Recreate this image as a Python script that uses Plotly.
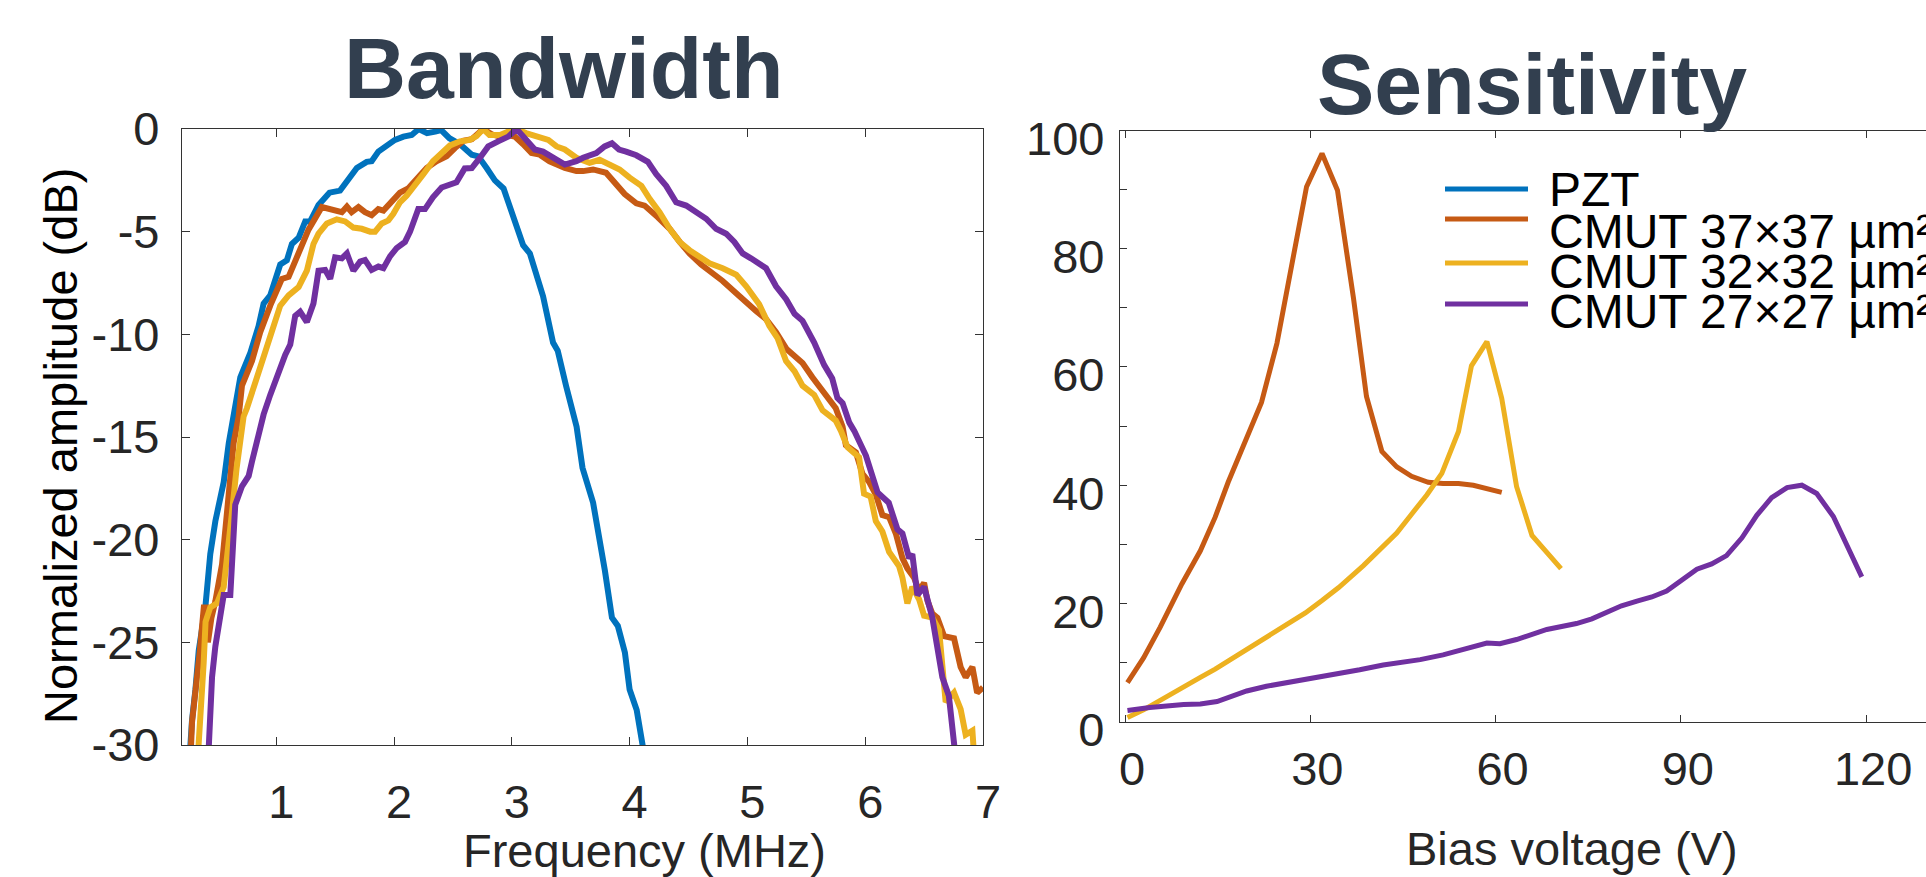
import plotly.graph_objects as go

# ---------------- Bandwidth data (frequency in MHz, normalized amplitude in dB) --------------
pzt_f = [0.26, 0.27, 0.285, 0.314, 0.342, 0.398, 0.44, 0.483, 0.554, 0.597, 0.637, 0.695, 0.78, 0.85,
         0.893, 0.949, 1.034, 1.09, 1.133, 1.19, 1.246, 1.288, 1.359, 1.452, 1.542, 1.613, 1.684, 1.768,
         1.81, 1.867, 1.938, 2.008, 2.08, 2.15, 2.21, 2.28, 2.35, 2.40, 2.47, 2.56, 2.66, 2.715, 2.786,
         2.856, 2.93, 3.0, 3.096, 3.153, 3.265, 3.35, 3.39, 3.46, 3.52, 3.55, 3.60, 3.69, 3.79, 3.85,
         3.90, 3.96, 4.0, 4.06, 4.11, 4.12]
pzt_db = [-31, -30.0, -28.8, -27.3, -25.4, -23.3, -20.7, -19.1, -17.2, -15.3, -14.0, -12.1, -10.9, -9.6,
          -8.5, -8.1, -6.6, -6.4, -5.6, -5.3, -4.5, -4.5, -3.7, -3.1, -3.0, -2.45, -1.9, -1.6,
          -1.57, -1.1, -0.85, -0.53, -0.37, -0.29, 0.0, -0.2, -0.13, -0.05, -0.45, -0.74, -1.25, -1.33, -1.9,
          -2.5, -2.9, -4.05, -5.66, -6.06, -8.14, -10.4, -10.8, -12.5, -14.0, -14.5, -16.5, -18.2, -21.5, -23.8,
          -24.2, -25.5, -27.3, -28.3, -30.0, -30.5]

c37_f = [0.27, 0.285, 0.35, 0.385, 0.405, 0.42, 0.45, 0.483, 0.54, 0.582, 0.638, 0.681, 0.709, 0.794,
         0.864, 0.949, 1.048, 1.105, 1.19, 1.274, 1.387, 1.458, 1.557, 1.6, 1.64, 1.698, 1.754, 1.81,
         1.867, 1.91, 1.98, 2.05, 2.12, 2.206, 2.277, 2.36, 2.446, 2.517, 2.587, 2.66, 2.757, 2.83, 2.9,
         2.955, 3.025, 3.096, 3.167, 3.237, 3.32, 3.45, 3.548, 3.605, 3.69, 3.80, 3.887, 3.958, 4.057,
         4.127, 4.24, 4.34, 4.425, 4.508, 4.607, 4.706, 4.79, 4.905, 4.99, 5.073, 5.158, 5.243, 5.33,
         5.40, 5.468, 5.553, 5.652, 5.75, 5.808, 5.836, 5.921, 5.977, 6.034, 6.09, 6.146, 6.203, 6.26,
         6.316, 6.358, 6.415, 6.457, 6.5, 6.528, 6.57, 6.613, 6.67, 6.754, 6.81, 6.853, 6.91, 6.95, 7.0]
c37_db = [-31, -28.9, -25.5, -23.3, -23.3, -25.0, -23.8, -23.0, -21.2, -18.5, -15.3, -14.0, -12.5, -11.3,
          -9.9, -8.6, -7.3, -7.2, -6.06, -4.9, -3.8, -3.9, -4.05, -3.78, -4.05, -3.8, -4.05, -4.2,
          -3.9, -3.97, -3.57, -3.1, -2.9, -2.3, -1.9, -1.57, -1.33, -0.93, -0.58, -0.5, 0.0, -0.26, -0.37,
          -0.29, -0.37, -0.74, -1.17, -1.25, -1.57, -1.9, -2.05, -2.05, -1.97, -2.13, -2.7, -3.17, -3.62,
          -3.73, -4.3, -4.86, -5.5, -6.06, -6.6, -7.0, -7.4, -8.0, -8.46, -8.86, -9.26, -9.9, -10.7,
          -11.1, -11.4, -12.1, -12.8, -13.6, -14.5, -15.4, -15.75, -16.8, -17.2, -17.8, -18.8, -18.9, -19.7,
          -20.9, -21.4, -21.85, -22.5, -22.1, -22.97, -23.6, -23.8, -24.7, -24.8, -26.2, -26.7, -26.2, -27.45, -27.2]

c32_f = [0.33, 0.342, 0.356, 0.384, 0.40, 0.44, 0.497, 0.554, 0.622, 0.664, 0.723, 0.751, 0.836, 0.907,
         0.977, 1.034, 1.105, 1.19, 1.26, 1.316, 1.359, 1.43, 1.514, 1.585, 1.655, 1.726, 1.797, 1.839,
         1.896, 1.952, 1.994, 2.05, 2.107, 2.178, 2.249, 2.33, 2.404, 2.475, 2.56, 2.644, 2.70, 2.757,
         2.81, 2.9, 2.98, 3.04, 3.12, 3.21, 3.31, 3.38, 3.45, 3.548, 3.66, 3.745, 3.83, 3.915, 4.0, 4.1,
         4.17, 4.254, 4.34, 4.425, 4.508, 4.58, 4.678, 4.79, 4.905, 4.99, 5.1, 5.186, 5.257, 5.328, 5.40,
         5.468, 5.567, 5.638, 5.75, 5.794, 5.85, 5.948, 5.99, 6.046, 6.09, 6.146, 6.203, 6.288, 6.316,
         6.358, 6.4, 6.457, 6.5, 6.57, 6.627, 6.683, 6.754, 6.81, 6.853, 6.91, 6.922, 6.93]
c32_db = [-31, -30.0, -28.1, -26.0, -24.0, -23.3, -23.1, -22.3, -18.8, -16.5, -14.0, -13.6, -12.1, -10.9,
          -9.6, -8.6, -8.1, -7.7, -6.9, -5.6, -5.1, -4.6, -4.4, -4.5, -4.8, -4.86, -5.0, -5.0,
          -4.6, -4.45, -4.13, -3.57, -3.25, -2.77, -2.2, -1.57, -1.17, -0.8, -0.6, -0.53, -0.35, 0.0,
          -0.29, -0.29, -0.1, 0.0, -0.2, -0.37, -0.53, -0.85, -1.0, -1.4, -1.65, -1.5, -1.73, -1.97, -2.37, -2.77,
          -3.4, -4.05, -4.86, -5.5, -5.9, -6.14, -6.54, -6.78, -7.1, -7.66, -8.54, -9.58, -10.2, -11.3, -11.8,
          -12.5, -12.95, -13.7, -14.2, -14.7, -15.5, -15.99, -17.76, -17.9, -19.1, -19.6, -20.6, -21.3, -21.85,
          -23.1, -22.3, -22.9, -23.7, -23.8, -24.4, -27.9, -27.45, -28.25, -29.5, -29.3, -30.0, -31]

c27_f = [0.42, 0.427, 0.44, 0.455, 0.483, 0.554, 0.61, 0.624, 0.652, 0.709, 0.766, 0.794, 0.85, 0.893,
         0.949, 1.006, 1.076, 1.119, 1.161, 1.203, 1.26, 1.316, 1.359, 1.415, 1.458, 1.5, 1.557, 1.6,
         1.655, 1.712, 1.754, 1.81, 1.867, 1.91, 1.966, 2.022, 2.093, 2.136, 2.206, 2.263, 2.33, 2.404,
         2.475, 2.53, 2.6, 2.66, 2.73, 2.8, 2.884, 2.97, 3.04, 3.125, 3.195, 3.265, 3.35, 3.45, 3.548,
         3.605, 3.717, 3.788, 3.85, 3.91, 3.97, 4.057, 4.155, 4.226, 4.31, 4.395, 4.48, 4.579, 4.65,
         4.734, 4.82, 4.889, 4.96, 5.03, 5.158, 5.243, 5.33, 5.40, 5.468, 5.567, 5.652, 5.72, 5.764,
         5.808, 5.865, 5.907, 6.006, 6.105, 6.2, 6.274, 6.316, 6.373, 6.4, 6.443, 6.5, 6.57, 6.655,
         6.71, 6.768, 6.775]
c27_db = [-31, -30.0, -27.9, -26.7, -25.2, -22.7, -22.7, -21.2, -18.3, -17.4, -16.9, -16.2, -14.8, -13.9,
          -12.95, -12.0, -11.0, -10.5, -9.1, -8.9, -9.4, -8.5, -6.9, -6.86, -7.3, -6.25, -6.3, -6.06,
          -6.9, -6.46, -6.38, -6.86, -6.7, -6.78, -6.2, -5.8, -5.5, -5.0, -3.9, -3.9, -3.33, -2.85,
          -2.7, -2.6, -1.92, -1.9, -1.4, -0.85, -0.6, -0.37, 0.0, -0.53, -1.0, -1.1, -1.4, -1.73, -1.57,
          -1.4, -1.17, -0.85, -0.69, -1.0, -1.1, -1.28, -1.6, -2.2, -2.77, -3.57, -3.73, -4.13, -4.37,
          -4.86, -5.1, -5.5, -6.06, -6.3, -6.78, -7.66, -8.3, -9.0, -9.34, -10.4, -11.5, -12.15, -13.1,
          -13.35, -14.3, -14.7, -15.9, -17.7, -18.2, -19.5, -19.7, -20.9, -20.7, -22.7, -22.3, -23.8, -26.7,
          -27.6, -30.0, -31]

# ---------------- Sensitivity data (bias voltage in V, sensitivity) ----------------
s37_v = [0.4, 3.0, 5.7, 9.2, 12.2, 14.6, 16.7, 19.2, 22.1, 24.6, 27.0, 29.4, 31.9, 34.4, 37.0, 39.1,
         41.6, 44.0, 46.4, 49.1, 51.5, 54.0, 56.4, 58.6, 61.0]
s37_y = [6.6, 10.8, 16.0, 23.3, 28.9, 34.6, 40.5, 46.7, 54.0, 64.0, 77.1, 90.5, 96.1, 89.9, 71.6, 55.0,
         45.7, 43.1, 41.5, 40.5, 40.3, 40.3, 40.0, 39.5, 38.8]

s32_v = [0.4, 3.0, 5.7, 9.5, 12.2, 14.6, 19.2, 22.4, 25.4, 29.2, 31.9, 34.6, 38.6, 41.6, 44.0, 46.4,
         48.9, 51.3, 54.0, 56.1, 58.6, 61.0, 63.4, 65.9, 68.3, 70.6]
s32_y = [0.7, 2.0, 3.6, 6.0, 7.5, 8.9, 11.9, 13.9, 15.8, 18.4, 20.5, 22.7, 26.4, 29.3, 31.9, 35.1,
         38.4, 42.0, 49.1, 60.2, 64.3, 54.7, 39.8, 31.5, 28.6, 25.9]

s27_v = [0.4, 4.0, 9.5, 12.2, 14.9, 17.5, 19.7, 22.9, 27.2, 33.7, 38.0, 41.8, 47.8, 51.5, 55.3, 58.6,
         60.7, 63.4, 68.3, 73.1, 75.6, 78.0, 80.4, 82.9, 85.3, 87.7, 90.1, 92.6, 95.0, 97.4, 99.9,
         102.3, 104.7, 107.2, 109.6, 112.0, 114.7, 116.9, 119.3]
s27_y = [1.9, 2.4, 2.9, 3.0, 3.4, 4.3, 5.2, 6.0, 6.8, 7.8, 8.8, 9.6, 10.5, 11.3, 12.4, 13.3,
         13.2, 13.9, 15.6, 16.6, 17.4, 18.5, 19.6, 20.4, 21.1, 22.1, 24.0, 25.8, 26.7, 28.1, 31.1,
         34.9, 37.9, 39.6, 40.0, 38.6, 34.7, 29.8, 24.5]

series_names = ["PZT", "CMUT 37×37 µm²", "CMUT 32×32 µm²", "CMUT 27×27 µm²"]
colors = ["#0072BD", "#C65A14", "#EDB120", "#7030A0"]

bw_x_ticks = [1, 2, 3, 4, 5, 6, 7]
bw_y_ticks = [-30, -25, -20, -15, -10, -5, 0]
bw_y_ticktext = ["-30", "-25", "-20", "-15", "-10", "-5", "0"]
sens_x_ticks = [0, 30, 60, 90, 120]
sens_y_ticks = [0, 20, 40, 60, 80, 100]

W, H = 1926, 877
FONT = "Liberation Sans, Arial, Helvetica, sans-serif"
TICK_COLOR = "#262626"


def px_x(p):
    return p / W


def px_y(p):
    return 1 - p / H


fig = go.Figure()

bw_sets = [(pzt_f, pzt_db), (c37_f, c37_db), (c32_f, c32_db), (c27_f, c27_db)]
for (fx, fy), name, col in zip(bw_sets, series_names, colors):
    fig.add_trace(go.Scatter(x=fx, y=fy, mode="lines", name=name, showlegend=False,
                             line=dict(color=col, width=6), xaxis="x", yaxis="y"))

sens_sets = [(s37_v, s37_y), (s32_v, s32_y), (s27_v, s27_y)]
for (sx, sy), name, col in zip(sens_sets, series_names[1:], colors[1:]):
    fig.add_trace(go.Scatter(x=sx, y=sy, mode="lines", name=name, showlegend=False,
                             line=dict(color=col, width=5), xaxis="x2", yaxis="y2"))

axis_common = dict(showgrid=False, zeroline=False, showline=True, linecolor="#333333", linewidth=1.3,
                   ticks="inside", tickcolor="#333333", tickwidth=1.3, automargin=False,
                   tickfont=dict(family=FONT, size=47, color=TICK_COLOR))

fig.update_layout(
    width=W, height=H,
    margin=dict(l=0, r=0, t=0, b=0, autoexpand=False),
    paper_bgcolor="white", plot_bgcolor="white",
    showlegend=False,
    xaxis=dict(domain=[px_x(182), px_x(983)], range=[0.2, 7], tickvals=bw_x_ticks, ticklen=8,
               mirror="ticks", anchor="y", ticklabelstandoff=15, ticklabelshift=5, **axis_common),
    yaxis=dict(domain=[px_y(745), px_y(129)], range=[-30, 0], tickvals=bw_y_ticks, ticktext=bw_y_ticktext,
               ticklen=8, mirror="ticks", anchor="x", ticklabelstandoff=12, **axis_common),
    xaxis2=dict(domain=[px_x(1120), 1.0], range=[-0.81, 129.7], tickvals=sens_x_ticks, ticklen=7,
                mirror="ticks", anchor="y2", ticklabelstandoff=6, ticklabelshift=7, **axis_common),
    yaxis2=dict(domain=[px_y(721.7), px_y(130.5)], range=[0, 100], tickvals=sens_y_ticks, ticklen=7,
                mirror=False, anchor="x2", ticklabelstandoff=5, ticklabelshift=8,
                minor=dict(dtick=10, ticks="inside", ticklen=7, tickcolor="#333333", tickwidth=1.3),
                **axis_common),
)

TITLE_COLOR = "#323F4F"
annotations = [
    dict(text="<b>Bandwidth</b>", x=px_x(564), y=px_y(68), font=dict(family=FONT, size=86, color=TITLE_COLOR)),
    dict(text="<b>Sensitivity</b>", x=px_x(1532), y=px_y(84), font=dict(family=FONT, size=86, color=TITLE_COLOR)),
    dict(text="Frequency (MHz)", x=px_x(644), y=px_y(850), font=dict(family=FONT, size=47, color=TICK_COLOR)),
    dict(text="Bias voltage (V)", x=px_x(1572), y=px_y(848), font=dict(family=FONT, size=47, color=TICK_COLOR)),
    dict(text="Normalized amplitude (dB)", x=px_x(60), y=px_y(446), textangle=-90,
         font=dict(family=FONT, size=47, color="black")),
]
for a in annotations:
    a.update(xref="paper", yref="paper", showarrow=False, xanchor="center", yanchor="middle")
    fig.add_annotation(**a)

# Legend (inside the Sensitivity panel)
leg_line_y = [189, 219, 263, 304]
leg_text_y = [189, 232, 272, 312]
for name, col, ly, ty in zip(series_names, colors, leg_line_y, leg_text_y):
    fig.add_shape(type="line", xref="paper", yref="paper", x0=px_x(1445), x1=px_x(1528),
                  y0=px_y(ly), y1=px_y(ly), line=dict(color=col, width=5))
    fig.add_annotation(text=name, xref="paper", yref="paper", x=px_x(1547), y=px_y(ty),
                       xanchor="left", yanchor="middle", showarrow=False,
                       font=dict(family=FONT, size=48, color="black"))

fig.write_html("out.html")
